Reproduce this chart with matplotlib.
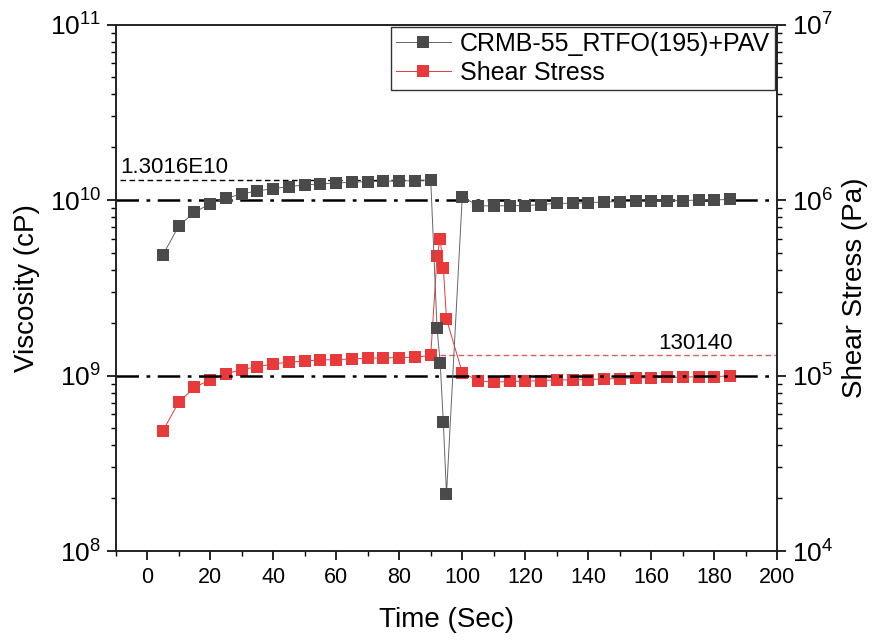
import matplotlib
matplotlib.use("Agg")
import matplotlib.pyplot as plt
from matplotlib.ticker import LogLocator, MultipleLocator, NullFormatter

plt.rcParams['font.family'] = ['Liberation Sans', 'DejaVu Sans']
plt.rcParams['mathtext.fontset'] = 'custom'
plt.rcParams['mathtext.rm'] = 'Liberation Sans'

# Time points (s)
time_s = [5, 10, 15, 20, 25, 30, 35, 40, 45, 50, 55, 60, 65, 70, 75, 80, 85, 90,
          92, 93, 94, 95,
          100, 105, 110, 115, 120, 125, 130, 135, 140, 145, 150, 155, 160, 165,
          170, 175, 180, 185]

# Viscosity (cP)
viscosity_cp = [4.87e9, 7.11e9, 8.51e9, 9.53e9, 1.023e10, 1.083e10, 1.127e10,
                1.162e10, 1.192e10, 1.219e10, 1.235e10, 1.251e10, 1.262e10,
                1.273e10, 1.279e10, 1.285e10, 1.290e10, 1.3016e10,
                1.86e9, 1.18e9, 5.4e8, 2.1e8,
                1.045e10, 9.29e9, 9.25e9, 9.29e9, 9.29e9, 9.42e9, 9.58e9,
                9.58e9, 9.66e9, 9.75e9, 9.79e9, 9.83e9, 9.88e9, 9.92e9,
                9.92e9, 1.0e10, 1.0e10, 1.009e10]

# Shear stress (Pa)
shear_stress_pa = [4.85e4, 7.03e4, 8.57e4, 9.44e4, 1.021e5, 1.081e5, 1.124e5,
                   1.165e5, 1.189e5, 1.211e5, 1.227e5, 1.232e5, 1.244e5,
                   1.254e5, 1.260e5, 1.266e5, 1.271e5, 1.3014e5,
                   4.8e5, 6.0e5, 4.1e5, 2.1e5,
                   1.039e5, 9.36e4, 9.14e4, 9.27e4, 9.27e4, 9.36e4, 9.44e4,
                   9.44e4, 9.48e4, 9.57e4, 9.61e4, 9.69e4, 9.69e4, 9.78e4,
                   9.78e4, 9.86e4, 9.86e4, 9.95e4]

peak_viscosity = 1.3016e10
peak_viscosity_label = "1.3016E10"
peak_time = 90
peak_stress = 130140
peak_stress_label = "130140"
ref_viscosity_levels = [1e10, 1e9]

gray = '#4a4a4a'
red = '#E8393B'

fig = plt.figure(figsize=(8.73, 6.42), dpi=100)
ax = fig.add_axes([0.1325, 0.1417, 0.8904 - 0.1325, 0.9618 - 0.1417])
ax2 = ax.twinx()

# keep the viscosity layer on top
ax.set_zorder(ax2.get_zorder() + 1)
ax.patch.set_visible(False)

for lvl in ref_viscosity_levels:
    ax.axhline(lvl, color='black', lw=1.8, ls=(0, (9, 3, 1.5, 3)), zorder=1)

ax.plot([-8.5, peak_time], [peak_viscosity, peak_viscosity], color='black',
        lw=1.0, ls=(0, (4, 2.5)), zorder=1)
ax.text(-8.7, peak_viscosity * 1.025, peak_viscosity_label, fontsize=16,
        ha='left', va='bottom')

ax2.plot([93, 200], [peak_stress, peak_stress], color='#D9605F', lw=1.0,
         ls=(0, (4, 2.5)), zorder=1)
ax2.text(174, peak_stress * 1.025, peak_stress_label, fontsize=16,
         ha='center', va='bottom')

l2, = ax2.plot(time_s, shear_stress_pa, color=red, lw=0.7, marker='s',
               markersize=8, markerfacecolor=red, markeredgewidth=0,
               label='Shear Stress', zorder=3)
l1, = ax.plot(time_s, viscosity_cp, color='#666666', lw=0.7, marker='s',
              markersize=8, markerfacecolor=gray, markeredgewidth=0,
              label='CRMB-55_RTFO(195)+PAV', zorder=3)

ax.set_yscale('log')
ax2.set_yscale('log')
ax.set_ylim(1e8, 1e11)
ax2.set_ylim(1e4, 1e7)
ax.set_xlim(-10, 200)

ax.xaxis.set_major_locator(MultipleLocator(20))
ax.xaxis.set_minor_locator(MultipleLocator(10))
for a in (ax, ax2):
    a.yaxis.set_major_locator(LogLocator(base=10, numticks=10))
    a.yaxis.set_minor_locator(LogLocator(base=10, subs=range(2, 10), numticks=20))
    a.yaxis.set_minor_formatter(NullFormatter())
    a.tick_params(which='major', direction='out', length=6.5, width=1.2,
                  colors='black')
    a.tick_params(which='minor', direction='out', length=3.5, width=1.0)
    a.tick_params(axis='y', which='major', labelsize=19, pad=4)
    for s in a.spines.values():
        s.set_linewidth(1.2)
        s.set_color('#222222')
ax.tick_params(axis='x', which='major', labelsize=15.5, pad=5)

ax.set_xlabel('Time (Sec)', fontsize=20, labelpad=14)
ax.set_ylabel('Viscosity (cP)', fontsize=20, labelpad=7)
ax2.set_ylabel('Shear Stress (Pa)', fontsize=20, labelpad=6)

leg = ax.legend(handles=[l1, l2], loc='upper right', fontsize=18,
                frameon=True, fancybox=False, borderpad=0.2,
                handlelength=2.2, handletextpad=0.35, labelspacing=0.2,
                borderaxespad=0.1)
leg.get_frame().set_edgecolor('black')
leg.get_frame().set_linewidth(1.0)

fig.savefig('out.png', dpi=100)
